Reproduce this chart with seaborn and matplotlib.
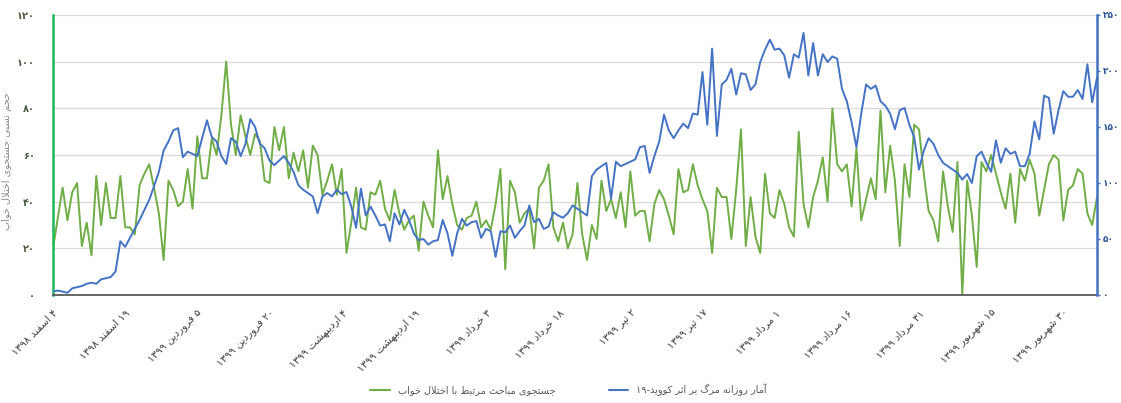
import re
import matplotlib
matplotlib.use('Agg')
import matplotlib.pyplot as plt
from matplotlib.lines import Line2D
import pandas as pd
import seaborn as sns

# ---- data (daily, starting 4 Esfand 1398) ----
tick_days = [0, 15, 30, 45, 60, 75, 90, 105, 120, 135, 150, 165, 180, 195, 210]
tick_labels = ['۴ اسفند ۱۳۹۸', '۱۹ اسفند ۱۳۹۸', '۵ فروردین ۱۳۹۹', '۲۰ فروردین ۱۳۹۹',
               '۴ اردیبهشت ۱۳۹۹', '۱۹ اردیبهشت ۱۳۹۹', '۳ خرداد ۱۳۹۹', '۱۸ خرداد ۱۳۹۹',
               '۲ تیر ۱۳۹۹', '۱۷ تیر ۱۳۹۹', '۱ مرداد ۱۳۹۹', '۱۶ مرداد ۱۳۹۹',
               '۳۱ مرداد ۱۳۹۹', '۱۵ شهریور ۱۳۹۹', '۳۰ شهریور ۱۳۹۹']

sleep_search = [20, 33, 46, 32, 44, 48, 21, 31, 17, 51,
                30, 48, 33, 33, 51, 29, 29, 26, 47, 52,
                56, 46, 35, 15, 49, 45, 38, 40, 54, 37,
                68, 50, 50, 67, 60, 77, 100, 73, 60, 77,
                68, 60, 69, 66, 49, 48, 72, 62, 72, 50,
                61, 53, 62, 46, 64, 60, 43, 49, 56, 43,
                54, 18, 31, 46, 29, 28, 44, 43, 49, 37,
                32, 45, 35, 28, 32, 34, 19, 40, 34, 29,
                62, 41, 51, 39, 30, 28, 33, 34, 40, 29,
                32, 28, 39, 54, 11, 49, 44, 31, 35, 37,
                20, 46, 49, 56, 29, 23, 31, 20, 26, 48,
                26, 15, 30, 24, 49, 36, 41, 33, 44, 29,
                53, 34, 36, 36, 23, 39, 45, 41, 34, 26,
                54, 44, 45, 56, 47, 41, 36, 18, 46, 42,
                42, 24, 45, 71, 21, 42, 25, 18, 52, 35,
                33, 45, 39, 29, 25, 70, 39, 29, 42, 49,
                59, 40, 80, 56, 53, 56, 38, 63, 32, 41,
                50, 41, 79, 44, 64, 49, 21, 56, 42, 73,
                71, 52, 36, 32, 23, 53, 38, 27, 57, 0,
                49, 34, 12, 57, 53, 60, 52, 44, 37, 52,
                31, 54, 49, 58, 52, 34, 45, 56, 60, 58,
                32, 45, 47, 54, 52, 35, 30, 42]

covid_deaths = [3, 4, 3, 2, 6, 7, 8, 10, 11, 10,
                14, 15, 16, 21, 48, 43, 51, 59, 67, 76,
                85, 97, 110, 129, 137, 147, 149, 123, 128, 126,
                124, 140, 156, 141, 137, 124, 117, 140, 137, 124,
                135, 157, 150, 135, 131, 120, 116, 120, 124, 118,
                110, 98, 94, 91, 88, 73, 88, 91, 88, 94,
                90, 92, 79, 60, 95, 71, 79, 71, 62, 63,
                48, 73, 63, 76, 67, 55, 49, 50, 45, 48,
                49, 67, 55, 35, 55, 68, 62, 65, 66, 51,
                59, 57, 34, 57, 56, 62, 51, 57, 62, 80,
                65, 68, 59, 61, 74, 71, 69, 73, 80, 77,
                74, 71, 106, 112, 115, 118, 86, 119, 115, 117,
                119, 121, 132, 133, 109, 124, 137, 161, 147, 140,
                147, 153, 149, 162, 161, 199, 152, 220, 142, 188,
                192, 202, 179, 198, 197, 183, 188, 208, 219, 228,
                219, 220, 214, 194, 215, 212, 234, 196, 225, 196,
                215, 208, 213, 211, 184, 173, 154, 132, 162, 188,
                184, 187, 173, 169, 162, 148, 165, 167, 152, 141,
                112, 129, 140, 135, 125, 118, 115, 112, 109, 103,
                108, 100, 124, 128, 118, 110, 138, 118, 131, 126,
                128, 115, 115, 126, 155, 139, 178, 176, 144, 165,
                182, 177, 177, 183, 175, 206, 172, 194]

left_ticks = [0, 20, 40, 60, 80, 100, 120]
right_ticks = [0, 50, 100, 150, 200, 250]

label_sleep = 'جستجوی مباحث مرتبط با اختلال خواب'
label_covid = 'آمار روزانه مرگ بر اثر کووید-۱۹'
ylabel_left = 'حجم نسبی جستجوی اختلال خواب'

# ---- minimal persian shaping (matplotlib does no shaping / bidi) ----
FORMS = {
    'ا': ('\uFE8D', '\uFE8E', None, None),
    'آ': ('\uFE81', '\uFE82', None, None),
    'ب': ('\uFE8F', '\uFE90', '\uFE91', '\uFE92'),
    'پ': ('\uFB56', '\uFB57', '\uFB58', '\uFB59'),
    'ت': ('\uFE95', '\uFE96', '\uFE97', '\uFE98'),
    'ث': ('\uFE99', '\uFE9A', '\uFE9B', '\uFE9C'),
    'ج': ('\uFE9D', '\uFE9E', '\uFE9F', '\uFEA0'),
    'ح': ('\uFEA1', '\uFEA2', '\uFEA3', '\uFEA4'),
    'خ': ('\uFEA5', '\uFEA6', '\uFEA7', '\uFEA8'),
    'د': ('\uFEA9', '\uFEAA', None, None),
    'ر': ('\uFEAD', '\uFEAE', None, None),
    'ز': ('\uFEAF', '\uFEB0', None, None),
    'س': ('\uFEB1', '\uFEB2', '\uFEB3', '\uFEB4'),
    'ش': ('\uFEB5', '\uFEB6', '\uFEB7', '\uFEB8'),
    'ط': ('\uFEC1', '\uFEC2', '\uFEC3', '\uFEC4'),
    'ف': ('\uFED1', '\uFED2', '\uFED3', '\uFED4'),
    'ک': ('\uFB8E', '\uFB8F', '\uFB90', '\uFB91'),
    'گ': ('\uFB92', '\uFB93', '\uFB94', '\uFB95'),
    'ل': ('\uFEDD', '\uFEDE', '\uFEDF', '\uFEE0'),
    'م': ('\uFEE1', '\uFEE2', '\uFEE3', '\uFEE4'),
    'ن': ('\uFEE5', '\uFEE6', '\uFEE7', '\uFEE8'),
    'ه': ('\uFEE9', '\uFEEA', '\uFEEB', '\uFEEC'),
    'و': ('\uFEED', '\uFEEE', None, None),
    'ی': ('\uFBFC', '\uFBFD', '\uFBFE', '\uFBFF'),
}


def shape(s):
    out = []
    i = 0
    while i < len(s):
        c = s[i]
        if c not in FORMS:
            out.append(c)
            i += 1
            continue
        prev = i > 0 and s[i - 1] in FORMS and FORMS[s[i - 1]][2] is not None
        if c == 'ل' and i + 1 < len(s) and s[i + 1] == 'ا':
            out.append('\uFEFC' if prev else '\uFEFB')
            i += 2
            continue
        f = FORMS[c]
        nxt = f[2] is not None and i + 1 < len(s) and s[i + 1] in FORMS
        if prev and nxt:
            out.append(f[3])
        elif prev:
            out.append(f[1])
        elif nxt:
            out.append(f[2])
        else:
            out.append(f[0])
        i += 1
    return ''.join(out)


def rtl(s):
    vis = shape(s)[::-1]
    return re.sub('[۰-۹0-9]+', lambda m: m.group(0)[::-1], vis)


def fa_num(n):
    return str(n).translate(str.maketrans('0123456789', '۰۱۲۳۴۵۶۷۸۹'))


# ---- plot ----
sns.set_style('white')
plt.rcParams['font.family'] = ['DejaVu Sans']

df = pd.DataFrame({'day': range(len(sleep_search)),
                   'sleep': sleep_search,
                   'covid': covid_deaths})

green = '#70AD47'
blue = '#4472C4'

fig = plt.figure(figsize=(11.21, 4.03), dpi=100)
ax = fig.add_axes([53 / 1121, 1 - 295 / 403, 1044 / 1121, 280 / 403])
ax2 = ax.twinx()

sns.lineplot(data=df, x='day', y='sleep', ax=ax, color=green, linewidth=1.4)
sns.lineplot(data=df, x='day', y='covid', ax=ax2, color=blue, linewidth=1.4)

ax.set_xlim(0, len(sleep_search) - 1)
ax.set_ylim(0, 120)
ax2.set_ylim(0, 250)

ax.set_yticks(left_ticks)
ax.set_yticklabels([fa_num(v) for v in left_ticks], fontsize=7,
                   color='#4a5a40', fontweight='bold')
ax2.set_yticks(right_ticks)
ax2.set_yticklabels([fa_num(v) for v in right_ticks], fontsize=6.5,
                    color='#2F5597', fontweight='bold')

ax.set_xticks(tick_days)
ax.set_xticklabels([rtl(t) for t in tick_labels], rotation=45, ha='right',
                   rotation_mode='anchor', fontsize=7.5, color='#404040')

ax.grid(axis='y', color='#d9d9d9', linewidth=0.9)
ax.set_axisbelow(True)
ax.set_xlabel('')
ax2.set_xlabel('')
ax2.set_ylabel('')
ax.set_ylabel(rtl(ylabel_left), fontsize=7, color='#8c8c8c')
ax.yaxis.set_label_coords(-0.039, 0.48)

ax.tick_params(axis='y', length=0, pad=13)
ax.tick_params(axis='x', length=4, width=1, color='#404040', direction='out', pad=5)
ax2.tick_params(axis='y', length=2.5, width=1, color=blue, pad=1.5)

for a in (ax, ax2):
    a.spines['top'].set_visible(False)
ax.spines['left'].set_color('#1DB954')
ax.spines['left'].set_linewidth(1.8)
ax.spines['right'].set_visible(False)
ax2.spines['left'].set_visible(False)
ax2.spines['bottom'].set_visible(False)
ax2.spines['right'].set_color(blue)
ax2.spines['right'].set_linewidth(1.8)
ax.spines['bottom'].set_color('#595959')
ax.spines['bottom'].set_linewidth(1.3)

handles = [Line2D([], [], color=green, linewidth=1.5),
           Line2D([], [], color=blue, linewidth=1.5)]
fig.legend(handles, [rtl(label_sleep), rtl(label_covid)], loc='lower center',
           bbox_to_anchor=(0.507, -0.005), ncol=2, frameon=False, fontsize=7,
           labelcolor='#595959', handlelength=2.0, columnspacing=5.5)

fig.savefig('out.png', dpi=100)
